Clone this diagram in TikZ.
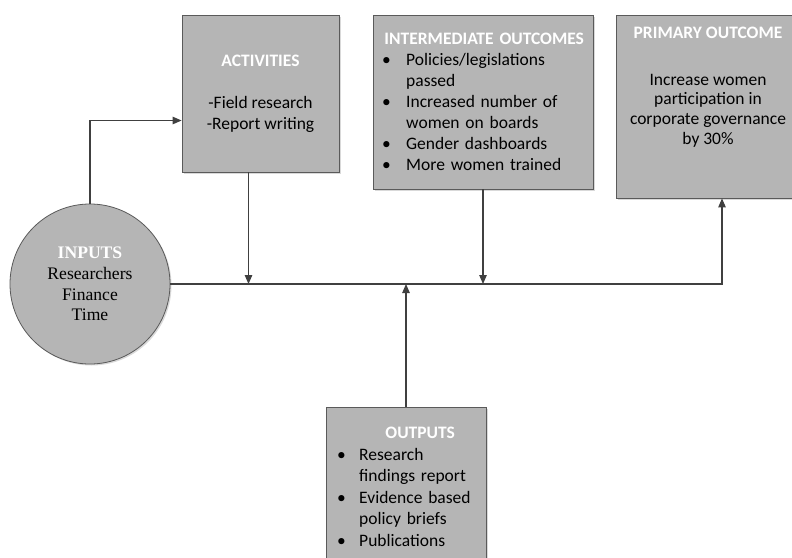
\documentclass[tikz,border=0pt]{standalone}
\usepackage{fontspec}
\setmainfont{Carlito}
\newfontfamily\serifin{Liberation Serif}
\usetikzlibrary{arrows.meta, positioning, shadows, calc}

\definecolor{boxGray}{HTML}{B5B5B5}
\definecolor{edgeGray}{HTML}{5A5A5A}
\definecolor{lineGray}{HTML}{404040}

% bullet line with hanging indent
\newcommand{\bitem}[2]{\par\hangindent=#1\hangafter=1\noindent\makebox[#1][l]{\textbullet}#2}
\newcommand{\headline}[1]{\textbf{\color{white}#1}}

\begin{document}
\begin{tikzpicture}[x=1pt, y=-1pt, >=Triangle]

% --- Styles ---
\tikzset{
    stageBox/.style={rectangle, draw=edgeGray, line width=0.8pt, fill=boxGray, inner sep=0pt,
        drop shadow={shadow xshift=1.5pt, shadow yshift=-1.5pt, fill=black!25, opacity=0.6}},
    inputCircle/.style={circle, draw=edgeGray, line width=0.8pt, fill=boxGray, inner sep=0pt,
        minimum size=160pt, align=center, font=\serifin\fontsize{17.6}{20.8}\selectfont,
        drop shadow={shadow xshift=1.5pt, shadow yshift=-1.5pt, fill=black!25, opacity=0.6}},
    boxText/.style={inner sep=0pt, font=\fontsize{17.5}{21}\selectfont},
    flowArrow/.style={draw=lineGray, line width=1.1pt, arrows={-Triangle[length=9pt, width=7.5pt]}},
}

\useasboundingbox (0,0) rectangle (792,557);
\clip (0,0) rectangle (792,557);

% --- Stages ---
\node[inputCircle] (inputs) at (90,284)
    {\headline{INPUTS}\\Researchers\\Finance\\Time};

\node[stageBox, minimum width=157pt, minimum height=157pt, boxText, align=center] (act) at (260.5,93.5)
    {\headline{ACTIVITIES}\\[21pt]-Field research\\-Report writing};

\node[stageBox, minimum width=220pt, minimum height=174pt] (inter) at (483,102) {};
\node[boxText, anchor=north west, text width=204pt] (intertext) at (382,33)
    {{\centering\headline{INTERMEDIATE OUTCOMES}\par}
     \bitem{24pt}{Policies/legislations\newline passed}
     \bitem{24pt}{Increased number of\newline women on boards}
     \bitem{24pt}{Gender dashboards}
     \bitem{24pt}{More women trained}};

\node[stageBox, minimum width=184pt, minimum height=183pt] (prim) at (708,106.5) {};
\node[boxText, anchor=north, align=center, font=\fontsize{17.5}{19.6}\selectfont] (primtext) at (708,27)
    {\headline{PRIMARY OUTCOME}\\[27pt]Increase women\\participation in\\corporate governance\\by 30\%};

\node[stageBox, minimum width=160pt, minimum height=173pt] (outp) at (406,493.5) {};
\node[boxText, anchor=north west, text width=166pt, font=\fontsize{17.5}{21.5}\selectfont] (outptext) at (337,427)
    {{\centering\headline{OUTPUTS}\par}
     \bitem{22pt}{Research\newline findings report}
     \bitem{22pt}{Evidence based\newline policy briefs}
     \bitem{22pt}{Publications}};

% --- Connectors ---
\draw[flowArrow] (inputs.north) |- ([yshift=-27pt]act.west);
\draw[flowArrow] (inputs.east) -| ([xshift=14pt]prim.south);
\draw[flowArrow] ([xshift=-12pt]act.south) -- ([xshift=-12pt]act.south |- inputs.east);
\draw[flowArrow] (inter.south) -- (inter.south |- inputs.east);
\draw[flowArrow] (outp.north) -- (outp.north |- inputs.east);

\end{tikzpicture}
\end{document}
